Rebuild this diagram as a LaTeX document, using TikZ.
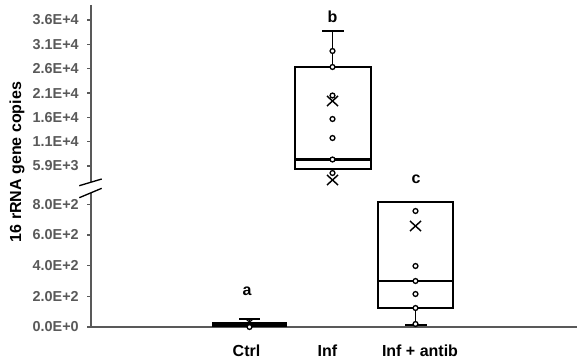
\documentclass[tikz,border=0pt]{standalone}
\usepackage{fontspec}
\setmainfont{Liberation Sans}
\definecolor{axgray}{HTML}{595959}
\begin{document}
\begin{tikzpicture}[x=0.75pt,y=-0.75pt,
  ticklab/.style={font=\bfseries\fontsize{10.8}{12}\selectfont, text=axgray, anchor=east, inner sep=0pt},
  biglab/.style={font=\bfseries\fontsize{12}{14}\selectfont, inner sep=0pt},
  axline/.style={draw=axgray, line width=1pt},
  boxline/.style={draw=black, line width=1.6pt},
  whisk/.style={draw=black, line width=1.2pt},
  dot/.style={draw=black, fill=white, line width=1pt},
  xmark/.pic={\draw[black, line width=1.1pt] (-5.5,-5)--(5.5,5) (-5.5,5)--(5.5,-5);},
  smallx/.pic={\draw[black, line width=0.9pt] (-3,-2.5)--(3,2.5) (-3,2.5)--(3,-2.5);}]
\useasboundingbox (0,0) rectangle (577,363);

% axes
\draw[axline] (91,5) -- (91,182.2);
\draw[axline] (91,192.8) -- (91,327);
\draw[axline] (87,327) -- (577,327);
\draw[black, line width=1pt] (79.3,185.7) -- (101.7,179);
\draw[black, line width=1pt] (79.3,197.7) -- (101.7,188.3);

% upper ticks
\foreach \yy/\lab [count=\i] in {20/3.6E+4,44.3/3.1E+4,68.7/2.6E+4,93/2.1E+4,117.3/1.6E+4,141.7/1.1E+4,166/5.9E+3}{
  \draw[axline] (87,\yy) -- (91,\yy);
  \node[ticklab] (u\i) at (79,\yy) {\lab};
}
% lower ticks
\foreach \yy/\lab [count=\i] in {204.3/8.0E+2,235/6.0E+2,265.7/4.0E+2,296.3/2.0E+2,327/0.0E+0}{
  \draw[axline] (87,\yy) -- (91,\yy);
  \node[ticklab] (l\i) at (79,\yy) {\lab};
}

\node[biglab, rotate=90] (ytitle) at (17,162) {16 rRNA gene copies};

% Ctrl
\fill[black] (211.7,321.7) rectangle (287.3,327.3);
\draw[whisk] (249.5,319) -- (249.5,322);
\draw[whisk] (239,319) -- (260,319);
\pic at (249.5,322) {smallx};
\draw[dot] (249.5,327) circle[radius=1.8pt];

% Inf
\draw[whisk] (332.5,67) -- (332.5,31);
\draw[whisk] (322,31) -- (344,31);
\draw[whisk] (332.5,169) -- (332.5,173);
\draw[boxline] (295,67) rectangle (371,169);
\draw[boxline] (295,159.5) -- (371,159.5);
\pic at (332.5,101) {xmark};
\pic at (332.5,180) {xmark};
\foreach \yy in {51,67,95.5,119,138,159.5,173}
  \draw[dot] (332.5,\yy) circle[radius=1.8pt];

% Inf + antib
\draw[whisk] (415.5,308) -- (415.5,324);
\draw[whisk] (405,325) -- (427,325);
\draw[boxline] (378,202) rectangle (453,308);
\draw[boxline] (378,281) -- (453,281);
\pic at (415.5,226) {xmark};
\foreach \yy in {211,266,281,294,308,324}
  \draw[dot] (415.5,\yy) circle[radius=1.8pt];

% letters
\node[biglab] (la) at (247,291) {a};
\node[biglab] (lb) at (332.5,17) {b};
\node[biglab] (lc) at (416,179) {c};

% x labels
\node[biglab] (xctrl) at (246.5,351) {Ctrl};
\node[biglab] (xinf) at (327.5,351) {Inf};
\node[biglab] (xanti) at (420,351) {Inf + antib};
\end{tikzpicture}
\end{document}
